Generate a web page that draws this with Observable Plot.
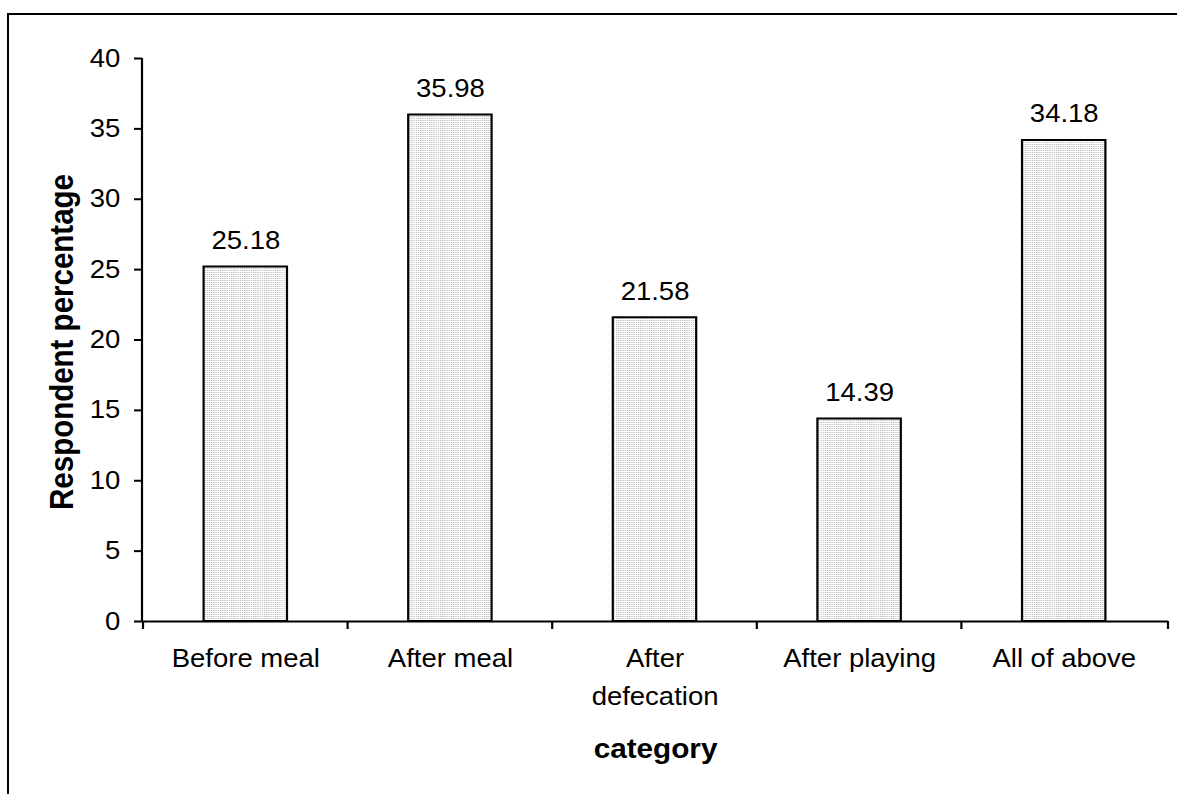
<!DOCTYPE html>
<html><head><meta charset="utf-8">
<script src="https://cdn.jsdelivr.net/npm/d3@7"></script>
<script src="https://cdn.jsdelivr.net/npm/@observablehq/plot@0.6"></script>
<style>
body{margin:0;background:#fff;}
#wrap{position:relative;width:1177px;height:794px;overflow:hidden;}
#border{position:absolute;left:7px;top:13px;right:-10px;bottom:-10px;border-top:2px solid #000;border-left:2px solid #000;}
#wrap svg{position:absolute;left:0;top:0;transform-origin:0 0;}
#wrap svg line, #wrap svg rect, #wrap svg path{vector-effect:non-scaling-stroke;}
</style></head><body><div id="wrap"><div id="border"></div></div>
<script>
const categories = ["Before meal", "After meal", "After defecation", "After playing", "All of above"];
const values = [25.18, 35.98, 21.58, 14.39, 34.18];
const tickLabels = ["Before meal", "After meal", "After\ndefecation", "After playing", "All of above"];
const yTicks = [0, 5, 10, 15, 20, 25, 30, 35, 40];
const yLabel = "Respondent percentage";
const xLabel = "category";

const data = categories.map((c, i) => ({category: c, value: values[i]}));
const labelOf = new Map(categories.map((c, i) => [c, tickLabels[i]]));

// the reference is horizontally stretched; draw narrower and stretch
const S = 1.1;
const W = 1177 / S;

const plot = Plot.plot({
  width: W,
  height: 794,
  marginLeft: 142 / S,
  marginRight: 9 / S,
  marginTop: 58,
  marginBottom: 173,
  style: {fontFamily: "'Liberation Sans', Arial, sans-serif", fontSize: "25px", color: "#000", background: "transparent", overflow: "visible"},
  x: {domain: categories, padding: 0},
  y: {domain: [0, 40]},
  marks: [
    Plot.barY(data, {x: "category", y: "value", fill: "url(#dots)", stroke: "#000", strokeWidth: 2, insetLeft: 60.6 / S, insetRight: 60.6 / S}),
    Plot.text(data, {x: "category", y: "value", text: d => d.value.toFixed(2), lineAnchor: "bottom", dy: -18, fontSize: 25, fill: "#000"}),
    Plot.ruleY([0], {stroke: "#000", strokeWidth: 2}),
    Plot.axisY({ticks: yTicks, tickSize: 8 / S, tickPadding: 13, label: null, fontSize: 25, stroke: "#000", strokeWidth: 2, strokeOpacity: 1}),
    Plot.axisX({tickSize: 0, tickPadding: 19, tickFormat: c => labelOf.get(c), label: null, fontSize: 25, lineHeight: 1.5}),
    Plot.text([yLabel], {frameAnchor: "left", textAnchor: "middle", rotate: -90, dx: -80 / S, dy: 2, fontWeight: "bold", fontSize: 29.5, fill: "#000"}),
    Plot.text([xLabel], {frameAnchor: "bottom", dy: 136, fontWeight: "bold", fontSize: 27, fill: "#000"})
  ]
});

const svg = d3.select(plot);
svg.style("transform", `scaleX(${S})`);
const defs = svg.insert("defs", ":first-child");
const pat = defs.append("pattern").attr("id", "dots").attr("patternUnits", "userSpaceOnUse").attr("width", 2).attr("height", 2);
pat.append("rect").attr("width", 2).attr("height", 2).attr("fill", "#fff");
pat.append("rect").attr("width", 1).attr("height", 1).attr("fill", "#b4b4b4");

const xs = plot.scale("x"), ys = plot.scale("y");
const y0 = ys.apply(0), yTop = ys.apply(40);
const xRange = xs.range;
const g = svg.append("g").attr("stroke", "#000").attr("stroke-width", 2);
g.append("line").attr("x1", xRange[0]).attr("x2", xRange[0]).attr("y1", yTop).attr("y2", y0);
const bounds = categories.map(c => xs.apply(c)).concat([xRange[1]]);
for (const b of bounds) {
  g.append("line").attr("x1", b).attr("x2", b).attr("y1", y0).attr("y2", y0 + 8);
}

document.getElementById("wrap").appendChild(plot);
</script>
</body></html>
